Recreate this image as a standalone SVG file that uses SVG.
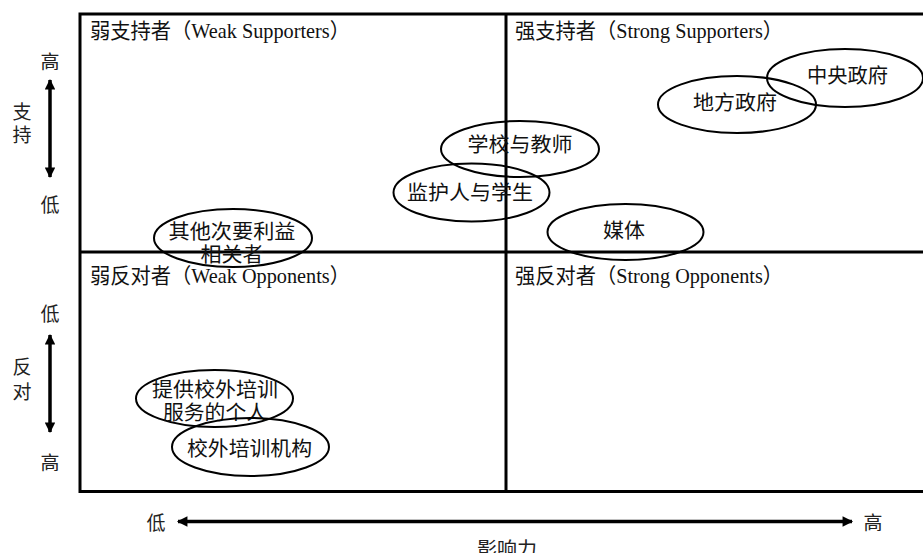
<svg xmlns="http://www.w3.org/2000/svg" width="923" height="553" viewBox="0 0 923 553">
<style>
  .frame { fill: none; stroke: #000; stroke-width: 3; }
  .ell { fill: none; stroke: #000; stroke-width: 2; }
  .qlab { font-family: "Liberation Serif", "Noto Sans CJK SC", serif; font-size: 21px; fill: #111; }
  .nlab { font-family: "Noto Sans CJK SC", "Liberation Sans", sans-serif; font-size: 20px; fill: #111; text-anchor: middle; dominant-baseline: central; }
  .axlab { font-family: "Noto Sans CJK SC", "Liberation Sans", sans-serif; font-size: 19px; fill: #222; text-anchor: middle; dominant-baseline: central; }
  .axis { stroke: #000; stroke-width: 3.5; fill: none; }
</style>
<defs>
  <marker id="ah" viewBox="0 0 10 10" refX="9" refY="5" markerWidth="3.4" markerHeight="3" orient="auto-start-reverse" markerUnits="strokeWidth">
    <path d="M0,0 L10,5 L0,10 Z" fill="#000"/>
  </marker>
</defs>
<rect width="923" height="553" fill="#fff"/>
<g id="quadrants">
  <rect class="frame" x="80" y="14" width="860" height="477.5"/>
  <line class="frame" x1="80" y1="252" x2="923" y2="252"/>
  <line class="frame" x1="506" y1="14" x2="506" y2="491.5"/>
  <text class="qlab" x="90" y="38" textLength="260" lengthAdjust="spacingAndGlyphs">弱支持者（Weak Supporters）</text>
  <text class="qlab" x="515" y="38" textLength="268" lengthAdjust="spacingAndGlyphs">强支持者（Strong Supporters）</text>
  <text class="qlab" x="90" y="283" textLength="260" lengthAdjust="spacingAndGlyphs">弱反对者（Weak Opponents）</text>
  <text class="qlab" x="515" y="283" textLength="268" lengthAdjust="spacingAndGlyphs">强反对者（Strong Opponents）</text>
</g>
<g id="connectors">
  <line class="axis" x1="50" y1="80" x2="50" y2="177" marker-start="url(#ah)" marker-end="url(#ah)"/>
  <line class="axis" x1="50" y1="335" x2="50" y2="432" marker-start="url(#ah)" marker-end="url(#ah)"/>
  <line class="axis" x1="178" y1="521.5" x2="852" y2="521.5" marker-start="url(#ah)" marker-end="url(#ah)"/>
</g>
<g id="axis-labels">
  <text class="axlab" x="50" y="60">高</text>
  <text class="axlab" x="22" y="110">支</text>
  <text class="axlab" x="22" y="133">持</text>
  <text class="axlab" x="50" y="203">低</text>
  <text class="axlab" x="50" y="312">低</text>
  <text class="axlab" x="22" y="365">反</text>
  <text class="axlab" x="22" y="390">对</text>
  <text class="axlab" x="50" y="461">高</text>
  <text class="axlab" x="156" y="521">低</text>
  <text class="axlab" x="873" y="521">高</text>
  <text class="axlab" x="507" y="547" textLength="60" lengthAdjust="spacingAndGlyphs">影响力</text>
</g>
<g id="node-other">
  <ellipse class="ell" cx="233" cy="238" rx="79" ry="29"/>
  <text class="nlab" x="232" y="230" textLength="127" lengthAdjust="spacingAndGlyphs">其他次要利益</text>
  <text class="nlab" x="232" y="253" textLength="63" lengthAdjust="spacingAndGlyphs">相关者</text>
</g>
<g id="node-guardian">
  <ellipse class="ell" cx="471.5" cy="192.5" rx="78" ry="29"/>
  <text class="nlab" x="470" y="191" textLength="126" lengthAdjust="spacingAndGlyphs">监护人与学生</text>
</g>
<g id="node-school">
  <ellipse class="ell" cx="520" cy="149" rx="79" ry="28"/>
  <text class="nlab" x="520" y="143" textLength="105" lengthAdjust="spacingAndGlyphs">学校与教师</text>
</g>
<g id="node-media">
  <ellipse class="ell" cx="625.5" cy="232" rx="78" ry="28"/>
  <text class="nlab" x="624" y="229" textLength="42" lengthAdjust="spacingAndGlyphs">媒体</text>
</g>
<g id="node-local">
  <ellipse class="ell" cx="737" cy="104.5" rx="79" ry="28.5"/>
  <text class="nlab" x="735" y="101" textLength="84" lengthAdjust="spacingAndGlyphs">地方政府</text>
</g>
<g id="node-central">
  <ellipse class="ell" cx="845" cy="78" rx="78" ry="29"/>
  <text class="nlab" x="847.5" y="74" textLength="81" lengthAdjust="spacingAndGlyphs">中央政府</text>
</g>
<g id="node-individual">
  <ellipse class="ell" cx="214.5" cy="398.5" rx="78.5" ry="28.5"/>
  <text class="nlab" x="215" y="388" textLength="126" lengthAdjust="spacingAndGlyphs">提供校外培训</text>
  <text class="nlab" x="215" y="411" textLength="104" lengthAdjust="spacingAndGlyphs">服务的个人</text>
</g>
<g id="node-institution">
  <ellipse class="ell" cx="250.5" cy="447" rx="78.5" ry="29"/>
  <text class="nlab" x="249.5" y="447" textLength="125" lengthAdjust="spacingAndGlyphs">校外培训机构</text>
</g>
</svg>
